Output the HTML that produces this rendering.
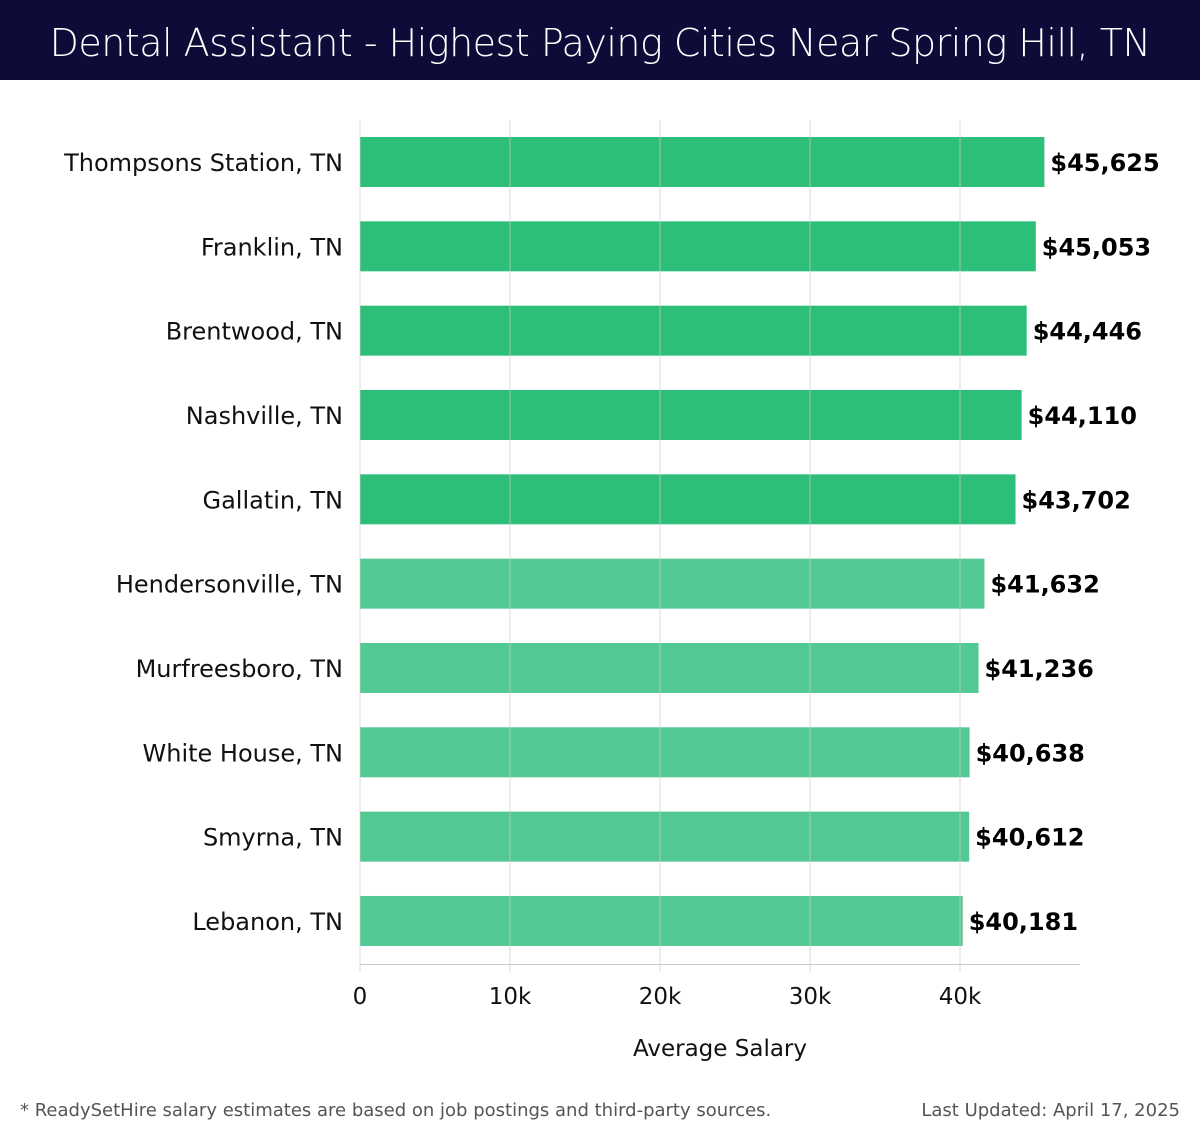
<!DOCTYPE html>
<html><head><meta charset="utf-8"><style>
body{margin:0;width:1200px;height:1140px;background:#fff;font-family:"Liberation Sans","DejaVu Sans",sans-serif;overflow:hidden;position:relative}
#hdr{position:absolute;left:0;top:0;width:1200px;height:80px;background:#0d0b38;color:#fff;font-size:38px;text-align:center;line-height:86px;font-family:"DejaVu Sans","Liberation Sans",sans-serif;font-weight:200;letter-spacing:-0.5px}
.foot{position:absolute;top:1100px;font-size:18px;color:#555;font-family:"DejaVu Sans",sans-serif}
</style></head><body>
<div id="hdr">Dental Assistant - Highest Paying Cities Near Spring Hill, TN</div>
<svg id="chart" width="1200" height="1140" style="position:absolute;left:0;top:0"></svg>
<div class="foot" style="left:20px">* ReadySetHire salary estimates are based on job postings and third-party sources.</div>
<div class="foot" style="right:20px">Last Updated: April 17, 2025</div>
<script>
const categories=["Thompsons Station, TN","Franklin, TN","Brentwood, TN","Nashville, TN","Gallatin, TN","Hendersonville, TN","Murfreesboro, TN","White House, TN","Smyrna, TN","Lebanon, TN"];
const values=[45625,45053,44446,44110,43702,41632,41236,40638,40612,40181];
const valueLabels=["$45,625","$45,053","$44,446","$44,110","$43,702","$41,632","$41,236","$40,638","$40,612","$40,181"];
const ticks=[0,10000,20000,30000,40000];
const tickLabels=["0","10k","20k","30k","40k"];
const NS="http://www.w3.org/2000/svg";
const svg=document.getElementById('chart');
const x=v=>360+v/48000*720;
const y=i=>162+i*84.33;
function mk(t,a){const e=document.createElementNS(NS,t);for(const k in a)e.setAttribute(k,a[k]);svg.appendChild(e);return e;}
categories.forEach((c,i)=>{
 const b=mk('rect',{x:360,y:y(i)-25,width:x(values[i])-360,height:50,fill:i<5?'#2dbf7a':'#52c992'});
 
 
 const l=mk('text',{x:343,y:y(i)+9,'text-anchor':'end','font-size':24,fill:'#111','font-family':'DejaVu Sans, sans-serif'});
 l.textContent=c;
 
 
 const v=mk('text',{x:x(values[i])+6,y:y(i)+9,'font-size':24,'font-weight':'bold',fill:'#000','font-family':'DejaVu Sans, sans-serif'});
 v.textContent=valueLabels[i];
 
 
});
ticks.forEach((t,i)=>{
 const g=mk('line',{x1:x(t),x2:x(t),y1:120,y2:972,stroke:'#ccc','stroke-width':1,'stroke-opacity':0.7});
 
 
 const tl=mk('text',{x:x(t),y:1004,'text-anchor':'middle','font-size':23,fill:'#111','font-family':'DejaVu Sans, sans-serif'});
 tl.textContent=tickLabels[i];
 
 
});
const ax=mk('line',{x1:360,x2:1080,y1:964.5,y2:964.5,stroke:'#ccc','stroke-width':1});


const at=mk('text',{x:720,y:1056,'text-anchor':'middle','font-size':23,fill:'#111','font-family':'DejaVu Sans, sans-serif'});
at.textContent='Average Salary';


</script>
</body></html>
